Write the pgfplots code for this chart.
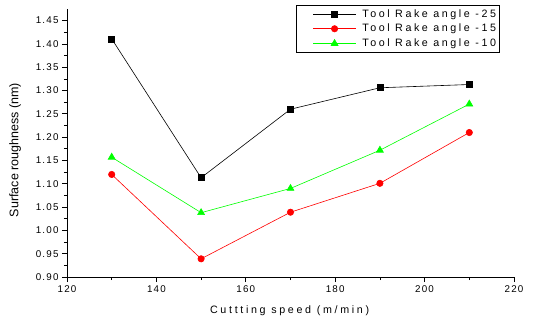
\documentclass[border=0pt]{standalone}
\usepackage{fontspec}
\setmainfont{Liberation Sans}
\newfontfamily\tickfont[LetterSpace=12]{Liberation Sans}
\newfontfamily\labfont[LetterSpace=25]{Liberation Sans}
\newfontfamily\legfont[LetterSpace=24]{Liberation Sans}
\usepackage{pgfplots}
\pgfplotsset{compat=1.18}
\pgfplotsset{mylegend/.style={legend image code/.code={\path (0pt,0pt) (62pt,0pt); \draw[mark repeat=2,mark phase=2,##1] plot coordinates {(15pt,0pt)(36.5pt,0pt)(58pt,0pt)};}}}
\begin{document}
\begin{tikzpicture}
\begin{axis}[
  scale only axis,
  width=447pt, height=268pt,
  xmin=120, xmax=220,
  ymin=0.90, ymax=1.475,
  axis lines=left,
  axis line style={-, line width=0.8pt},
  tick align=outside,
  tick style={black, line width=0.8pt},
  major tick length=5pt,
  minor tick length=3pt,
  xtick={120,140,...,220},
  minor x tick num=1,
  ytick={0.90,0.95,...,1.46},
  minor y tick num=1,
  /pgf/number format/assume math mode=true,
  yticklabel style={/pgf/number format/fixed, /pgf/number format/fixed zerofill, /pgf/number format/precision=2, font=\tickfont\fontsize{9.8}{11}\selectfont},
  xticklabel style={font=\tickfont\fontsize{9.8}{11}\selectfont},
  scaled y ticks=false,
  xlabel={Cuttting speed (m/min)},
  ylabel={Surface roughness (nm)},
  xlabel style={font=\labfont\fontsize{10.7}{12}\selectfont, at={(axis description cs:0.498,-0.125)}, anchor=center},
  ylabel style={font=\fontsize{12.5}{14}\selectfont, at={(axis description cs:-0.116,0.474)}, anchor=center},
  legend style={at={(rel axis cs:0.512,1.015)}, anchor=north west, draw=black, line width=0.8pt,
    font=\legfont\fontsize{10.7}{12}\selectfont, inner xsep=1.5pt, inner ysep=2pt, row sep=1.5pt},
  legend cell align=left,
]
\addplot[black, line width=0.6pt, mark=square*, mark size=3pt, mark options={solid}, mylegend] coordinates {
(130,1.411) (150,1.113) (170,1.260) (190,1.306) (210,1.313)};
\addlegendentry{Tool Rake angle -25}
\addplot[red, line width=0.6pt, mark=*, mark size=3.2pt, mylegend] coordinates {
(130,1.120) (150,0.939) (170,1.039) (190,1.101) (210,1.210)};
\addlegendentry{Tool Rake angle -15}
\addplot[green, line width=0.6pt, mark=triangle*, mark size=4pt, mylegend] coordinates {
(130,1.157) (150,1.038) (170,1.090) (190,1.172) (210,1.271)};
\addlegendentry{Tool Rake angle -10}
\end{axis}
\useasboundingbox (-67pt,-45pt) rectangle (469pt,277pt);
\end{tikzpicture}
\end{document}
